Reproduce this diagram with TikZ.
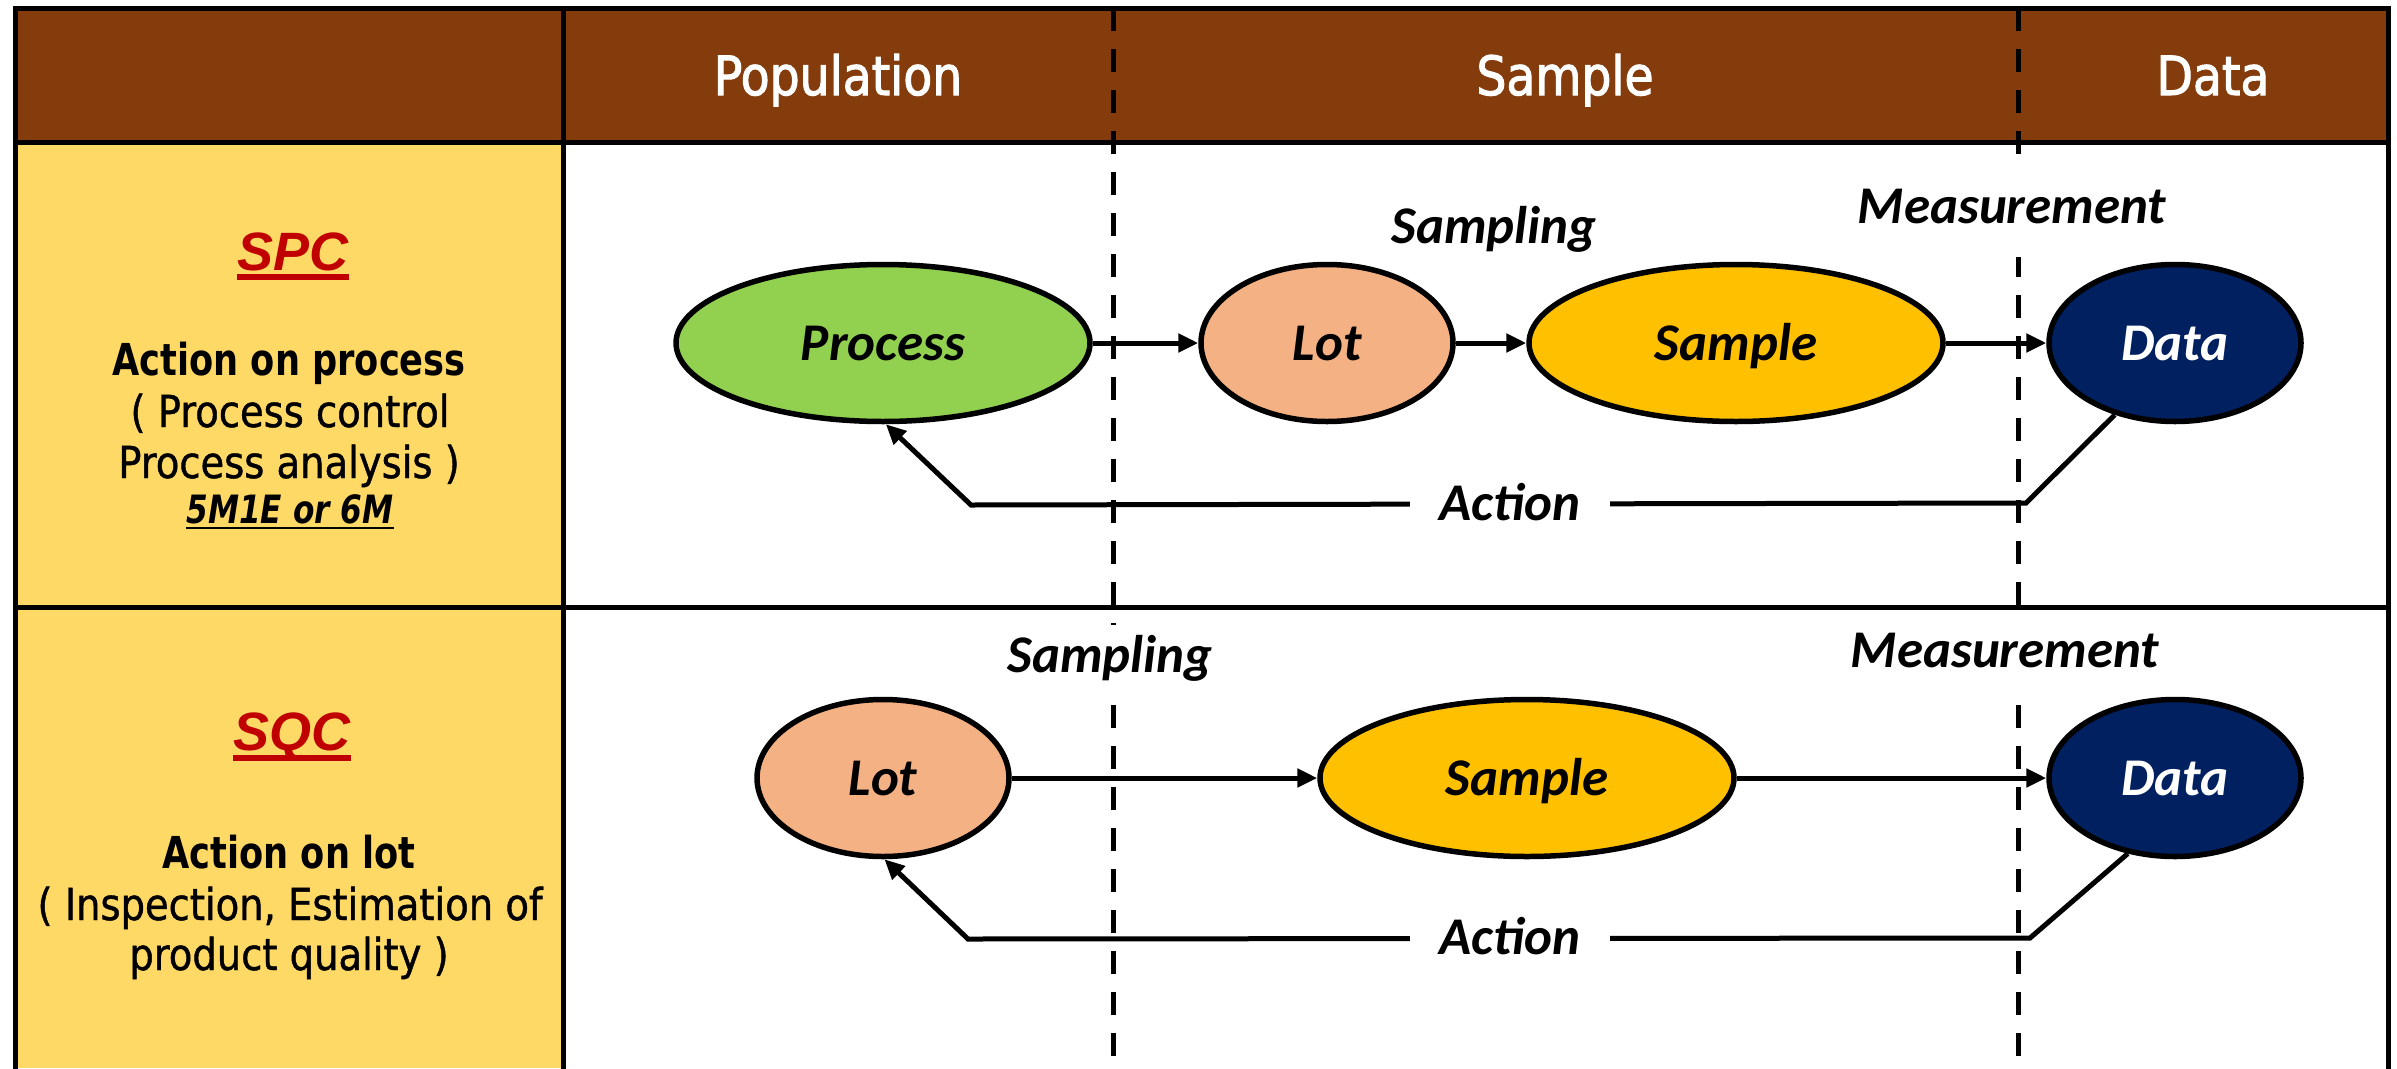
\documentclass[tikz,border=0pt]{standalone}
\usepackage{fontspec}
\usetikzlibrary{arrows.meta,shapes.geometric}
\setmainfont{DejaVu Sans}
\newfontfamily\tah[FakeStretch=0.875,FakeBold=1]{DejaVu Sans}
\newfontfamily\tahh[FakeStretch=0.875,FakeBold=2]{DejaVu Sans}
\newfontfamily\tahb[FakeStretch=0.8]{DejaVu Sans}
\newfontfamily\calfont{Carlito}
\newfontfamily\arialfont{Liberation Sans}
\definecolor{hdrbrown}{HTML}{843C0C}
\definecolor{goldfill}{HTML}{FFD966}
\definecolor{procgreen}{HTML}{92D050}
\definecolor{lotorange}{HTML}{F4B183}
\definecolor{sampleyellow}{HTML}{FFC000}
\definecolor{datablue}{HTML}{002060}
\definecolor{spcred}{HTML}{C00000}
\tikzset{
  gridline/.style={line width=5pt, line cap=rect},
  dashline/.style={line width=5pt, dash pattern=on 23pt off 18pt},
  ell/.style={ellipse, draw, line width=5.5pt, inner sep=0pt, minimum height=157pt,
    font=\calfont\bfseries\itshape\fontsize{53}{60}\selectfont, text height=34pt, text depth=0pt},
  bigell/.style={ell, minimum width=414pt},
  smallell/.style={ell, minimum width=252pt},
  conn/.style={line width=5pt, -{Triangle[length=20pt,width=18pt]}},
  loopline/.style={line width=5pt, line join=miter, -{Triangle[length=20pt,width=18pt]}},
  lbl/.style={anchor=base, fill=white, inner xsep=4pt, inner ysep=10pt,
    font=\calfont\bfseries\itshape\fontsize{53}{60}\selectfont},
  actlbl/.style={lbl, inner xsep=30pt, inner ysep=4pt},
  hdrtxt/.style={anchor=base, inner sep=0pt, text=white, font=\tahh\fontsize{54}{60}\selectfont},
  coltxt/.style={anchor=base, inner sep=0pt, font=\tah\fontsize{44}{51}\selectfont},
  colbold/.style={anchor=base, inner sep=0pt, font=\tahb\bfseries\fontsize{44}{51}\selectfont},
  colsmall/.style={anchor=base, inner sep=0pt, font=\tahb\bfseries\itshape\fontsize{39}{44}\selectfont},
  spctxt/.style={anchor=base, inner sep=0pt, text=spcred, font=\arialfont\bfseries\itshape\fontsize{54}{60}\selectfont},
}
\begin{document}
\begin{tikzpicture}[x=1pt,y=-1pt]
\useasboundingbox (0,0) rectangle (2397,1068);
% fills
\fill[hdrbrown] (15,8) rectangle (2388,142);
\fill[goldfill] (15,142) rectangle (563,1068);
% dashed column separators
\draw[dashline] (1113,8) -- (1113,1068);
\draw[dashline] (2018,8) -- (2018,1068);
% header texts
\node[hdrtxt] (hpop) at (838,95) {Population};
\node[hdrtxt] (hsam) at (1565,95) {Sample};
\node[hdrtxt] (hdat) at (2213,95) {Data};
% left column SPC
\node[spctxt] (spc) at (293,270) {SPC};
\draw[spcred, line width=6pt] ([yshift=-7pt]spc.base west) -- ([yshift=-7pt]spc.base east);
\node[colbold] (spc1) at (289,375) {Action on process};
\node[coltxt] (spc2) at (290,427) {( Process control};
\node[coltxt] (spc3) at (289,478) {Process analysis )};
\node[colsmall] (spc4) at (290,523) {5M1E or 6M};
\draw[line width=2.5pt] ([yshift=-5pt]spc4.base west) -- ([yshift=-5pt]spc4.base east);
% left column SQC
\node[spctxt] (sqc) at (292,750) {SQC};
\draw[spcred, line width=6pt] ([yshift=-8pt]sqc.base west) -- ([yshift=-8pt]sqc.base east);
\node[colbold] (sqc1) at (289,868) {Action on lot};
\node[coltxt] (sqc2) at (290,920) {( Inspection, Estimation of};
\node[coltxt] (sqc3) at (289,970) {product quality )};
% row 1 ellipses
\node[bigell, fill=procgreen] (p1) at (883,343) {Process};
\node[smallell, fill=lotorange] (l1) at (1327,343) {Lot};
\node[bigell, fill=sampleyellow] (s1) at (1736,343) {Sample};
\node[smallell, fill=datablue, text=white] (d1) at (2175,343) {Data};
% row 2 ellipses
\node[smallell, fill=lotorange] (l2) at (883,778) {Lot};
\node[bigell, fill=sampleyellow] (s2) at (1527,778) {Sample};
\node[smallell, fill=datablue, text=white] (d2) at (2175,778) {Data};
% row 1 connectors
\draw[conn] (p1.east) -- (l1.west);
\draw[conn] (l1.east) -- (s1.west);
\draw[conn] (s1.east) -- (d1.west);
\coordinate (a1r) at (2026,503);
\coordinate (a1l) at (971,505);
\draw[loopline] (d1.230) -- (a1r) -- (a1l) -- (p1.272);
% row 2 connectors
\draw[conn] (l2.east) -- (s2.west);
\draw[conn] (s2.east) -- (d2.west);
\coordinate (a2r) at (2030,938);
\coordinate (a2l) at (968,939);
\draw[loopline] (d2.238) -- (a2r) -- (a2l) -- (l2.271);
% labels
\node[lbl] (samp1) at (1494,243) {Sampling};
\node[lbl, inner ysep=34pt] (meas1) at (2012,223) {Measurement};
\node[actlbl] (act1) at (1510,520) {Action};
\node[lbl] (samp2) at (1110,672) {Sampling};
\node[lbl, inner ysep=21pt] (meas2) at (2005,667) {Measurement};
\node[actlbl] (act2) at (1510,954) {Action};
% grid lines
\draw[gridline] (15,8) -- (2388,8);
\draw[gridline] (15,142) -- (2388,142);
\draw[gridline] (15,607) -- (2388,607);
\draw[gridline] (15,8) -- (15,1068);
\draw[gridline] (563,8) -- (563,1068);
\draw[gridline] (2388,8) -- (2388,1068);
\end{tikzpicture}
\end{document}
